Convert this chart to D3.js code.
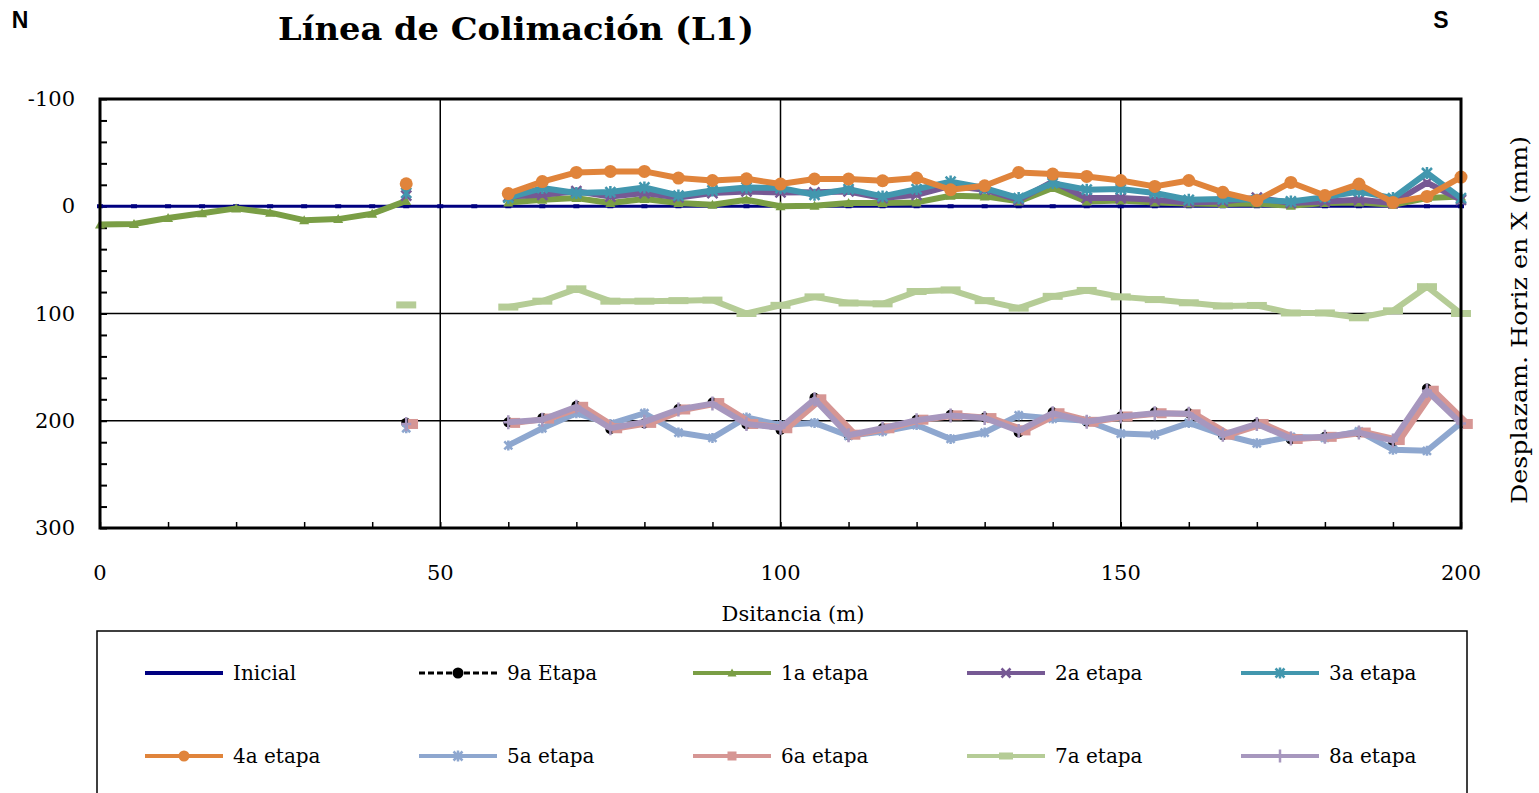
<!DOCTYPE html>
<html>
<head>
<meta charset="utf-8">
<script src="https://cdn.jsdelivr.net/npm/d3@7"></script>
<style>
  body { margin: 0; background: #fff; }
  svg { display: block; }
  .serif { font-family: "DejaVu Serif", "Liberation Serif", serif; }
</style>
</head>
<body>
<svg id="chart" width="1539" height="793"></svg>
<script>
"use strict";

// distancias (m)
var distancias = [0, 5, 10, 15, 20, 25, 30, 35, 40, 45, 50, 55, 60, 65, 70, 75, 80, 85, 90, 95, 100,
  105, 110, 115, 120, 125, 130, 135, 140, 145, 150, 155, 160, 165, 170, 175, 180, 185, 190, 195, 200];
// la 6a etapa esta corrida 1 m
var distancias6a = [1, 6, 11, 16, 21, 26, 31, 36, 41, 46, 51, 56, 61, 66, 71, 76, 81, 86, 91, 96, 101,
  106, 111, 116, 121, 126, 131, 136, 141, 146, 151, 156, 161, 166, 171, 176, 181, 186, 191, 196, 201];

var inicial = [0, 0, 0, 0, 0, 0, 0, 0, 0, 0, 0, 0, 0, 0, 0, 0, 0, 0, 0, 0, 0,
  0, 0, 0, 0, 0, 0, 0, 0, 0, 0, 0, 0, 0, 0, 0, 0, 0, 0, 0, 0];
var etapa9 = [null, null, null, null, null, null, null, null, null, 202, null, null,
  201.5, 197.5, 186, 208, 202.5, 189, 183, 203.5, 208.5, 178.5, 213.5, 207, 199, 194.5, 197,
  211, 192, 201, 196, 192, 193, 213.5, 202.5, 217.5, 215, 211, 219.5, 170, 202.5];
var etapa1 = [17, 16.5, 11, 6.5, 2, 6, 13, 12, 7, -5, null, null,
  -3.6, -6, -7.6, -3, -6.7, -3, -1.4, -6, 0, -0.5, -3, -3, -3.6, -9.8, -9.2,
  -4.5, -17, -4.5, -5.4, -3.6, -2.5, -2, -2.5, -0.5, -3, -3.6, -1.4, -7.6, -9];
var etapa2 = [null, null, null, null, null, null, null, null, null, -10, null, null,
  -9, -10.7, -14, -9, -12.3, -8.2, -12.3, -13.8, -12.9, -13, -13.8, -7.6, -10.7, -19, -15.4,
  -6, -23, -7.6, -7.6, -6, -3.6, -4.5, -8, -3, -4.5, -6, -3, -22, -6];
var etapa3 = [null, null, null, null, null, null, null, null, null, -12.5, null, null,
  -8, -17, -12.3, -13.2, -17.5, -10, -14.7, -17.5, -17, -10.7, -16, -9.2, -16, -23, -17,
  -7.6, -21.6, -15.4, -16, -12.3, -6, -6.7, -6, -4.5, -8.5, -13.8, -7.6, -31, -7.6];
var etapa4 = [null, null, null, null, null, null, null, null, null, -21, null, null,
  -11.8, -23, -31.5, -32.5, -32.5, -26.3, -24, -25.6, -20.7, -25.4, -25.4, -23.8, -26.3, -15.4, -19.1,
  -31.5, -30, -27.8, -24, -18.5, -24, -13, -5.4, -22.2, -10, -20.7, -3.6, -9.2, -27.2];
var etapa5 = [null, null, null, null, null, null, null, null, null, 207, null, null,
  223, 207, 193, 203, 193, 211, 216, 197, 204, 202, 214, 210, 204, 217, 211,
  195, 198, 200, 212, 213, 202, 213, 221, 215, 216, 210, 227, 228, 202];
var etapa6 = [null, null, null, null, null, null, null, null, null, 203, null, null,
  202, 198, 187, 207, 202, 189.5, 183.5, 203, 207, 180, 213, 207, 199, 195, 197.5,
  209, 193, 201, 196, 193, 194, 213, 203, 217, 215, 211, 218, 172, 203];
var etapa7 = [null, null, null, null, null, null, null, null, null, 92, null, null,
  94, 88.5, 77, 88.5, 88.5, 88, 87.5, 100, 92.4, 84.5, 90.2, 91, 79.5, 78, 88,
  95, 84, 78.5, 84.5, 87, 90, 93, 92.5, 99.5, 99.5, 104, 97.5, 75, 100];
var etapa8 = [null, null, null, null, null, null, null, null, null, 203, null, null,
  201.5, 199, 187, 207, 201, 189.5, 184, 203, 206.5, 180, 213.5, 207, 199.5, 195, 197.5,
  209.5, 193, 201, 196, 193, 193.5, 213, 203, 216.5, 215, 211, 218.5, 172, 202.5];

var xTicks = [0, 50, 100, 150, 200];
var yTicks = [-100, 0, 100, 200, 300];

var series = [
  { name: "Inicial", x: distancias, y: inicial, color: "#000080", width: 3, marker: "dot", size: 3 },
  { name: "9a Etapa", x: distancias, y: etapa9, color: "#000000", width: 2, dash: "6,3", marker: "circle", size: 5 },
  { name: "1a etapa", x: distancias, y: etapa1, color: "#7a9e45", width: 6, marker: "triangle", size: 5 },
  { name: "2a etapa", x: distancias, y: etapa2, color: "#765994", width: 6, marker: "times", size: 5 },
  { name: "3a etapa", x: distancias, y: etapa3, color: "#4297ae", width: 6, marker: "asterisk", size: 5 },
  { name: "4a etapa", x: distancias, y: etapa4, color: "#e0843b", width: 6, marker: "circle", size: 6.5 },
  { name: "5a etapa", x: distancias, y: etapa5, color: "#8ea7cf", width: 6, marker: "asterisk", size: 4 },
  { name: "6a etapa", x: distancias6a, y: etapa6, color: "#d69694", width: 6, marker: "square", size: 5 },
  { name: "7a etapa", x: distancias, y: etapa7, color: "#b5cc96", width: 6, marker: "bar", size: 10 },
  { name: "8a etapa", x: distancias, y: etapa8, color: "#a797be", width: 6, marker: "plus", size: 5 }
];

var svg = d3.select("#chart");
var plot = { left: 100, right: 1461, top: 99, bottom: 528 };

var x = d3.scaleLinear().domain([0, 200]).range([plot.left, plot.right]);
var y = d3.scaleLinear().domain([-100, 300]).range([plot.top, plot.bottom]);

// titulo y letras N / S
svg.append("text")
  .attr("class", "serif")
  .attr("x", 516).attr("y", 40)
  .attr("text-anchor", "middle")
  .attr("font-size", 31).attr("font-weight", "bold")
  .attr("textLength", 476)
  .attr("lengthAdjust", "spacingAndGlyphs")
  .text("Línea de Colimación (L1)");

svg.append("text")
  .attr("x", 20).attr("y", 28)
  .attr("text-anchor", "middle")
  .attr("font-family", "'Liberation Sans', Arial, sans-serif")
  .attr("font-size", 23).attr("font-weight", "bold")
  .text("N");
svg.append("text")
  .attr("x", 1441).attr("y", 28)
  .attr("text-anchor", "middle")
  .attr("font-family", "'Liberation Sans', Arial, sans-serif")
  .attr("font-size", 23).attr("font-weight", "bold")
  .text("S");

// rejilla
var grid = svg.append("g").attr("class", "grid");
grid.selectAll("line.v")
  .data(xTicks.slice(1, -1))
  .enter().append("line")
  .attr("class", "v")
  .attr("x1", function(d) { return x(d); }).attr("x2", function(d) { return x(d); })
  .attr("y1", plot.top).attr("y2", plot.bottom)
  .attr("stroke", "#000").attr("stroke-width", 1.5);
grid.selectAll("line.h")
  .data(yTicks.slice(1, -1))
  .enter().append("line")
  .attr("class", "h")
  .attr("x1", plot.left).attr("x2", plot.right)
  .attr("y1", function(d) { return y(d); }).attr("y2", function(d) { return y(d); })
  .attr("stroke", "#000").attr("stroke-width", 1.5);

// ejes (marcas menores hacia dentro)
var yAxis = d3.axisRight(y)
  .tickValues(d3.range(-100, 301, 20))
  .tickSize(7)
  .tickFormat("");
svg.append("g")
  .attr("transform", "translate(" + plot.left + ",0)")
  .call(yAxis)
  .call(function(g) {
    g.select(".domain").remove();
    g.selectAll("line").attr("stroke-width", 2);
  });

var xAxis = d3.axisTop(x)
  .tickValues(d3.range(0, 201, 10))
  .tickSize(6)
  .tickFormat("");
svg.append("g")
  .attr("transform", "translate(0," + plot.bottom + ")")
  .call(xAxis)
  .call(function(g) {
    g.select(".domain").remove();
    g.selectAll("line").attr("stroke-width", 1.5);
  });

svg.append("g").selectAll("text")
  .data(yTicks)
  .enter().append("text")
  .attr("class", "serif")
  .attr("x", 75)
  .attr("y", function(d) { return y(d) + 7; })
  .attr("text-anchor", "end")
  .attr("font-size", 21)
  .text(function(d) { return d; });

svg.append("g").selectAll("text")
  .data(xTicks)
  .enter().append("text")
  .attr("class", "serif")
  .attr("x", function(d) { return x(d); })
  .attr("y", 580)
  .attr("text-anchor", "middle")
  .attr("font-size", 21)
  .text(function(d) { return d; });

svg.append("text")
  .attr("class", "serif")
  .attr("x", 793).attr("y", 621)
  .attr("text-anchor", "middle")
  .attr("font-size", 21)
  .text("Dsitancia (m)");

svg.append("text")
  .attr("class", "serif")
  .attr("transform", "translate(1527,320) rotate(-90)")
  .attr("text-anchor", "middle")
  .attr("font-size", 22)
  .attr("textLength", 368)
  .attr("lengthAdjust", "spacingAndGlyphs")
  .text("Desplazam. Horiz en X (mm)");

// marcadores
function drawMarker(g, type, s, color) {
  if (type === "circle") {
    g.append("circle").attr("r", s).attr("fill", color);
  } else if (type === "dot") {
    g.append("rect").attr("x", -s).attr("y", -s / 2 - 0.5).attr("width", 2 * s).attr("height", s + 1).attr("fill", color);
  } else if (type === "triangle") {
    g.append("path").attr("d", "M0," + (-s) + "L" + s + "," + (s * 0.8) + "L" + (-s) + "," + (s * 0.8) + "Z").attr("fill", color);
  } else if (type === "square") {
    g.append("rect").attr("x", -s).attr("y", -s).attr("width", 2 * s).attr("height", 2 * s).attr("fill", color);
  } else if (type === "bar") {
    g.append("rect").attr("x", -s).attr("y", -3.5).attr("width", 2 * s).attr("height", 7).attr("fill", color);
  } else if (type === "times") {
    g.append("path").attr("d", "M" + (-s) + "," + (-s) + "L" + s + "," + s + "M" + (-s) + "," + s + "L" + s + "," + (-s))
      .attr("stroke", color).attr("stroke-width", 2.5);
  } else if (type === "plus") {
    g.append("path").attr("d", "M0," + (-s - 2) + "V" + (s + 2) + "M" + (-s) + ",0H" + s)
      .attr("stroke", color).attr("stroke-width", 2.5);
  } else if (type === "asterisk") {
    g.append("path").attr("d", "M" + (-s) + "," + (-s) + "L" + s + "," + s + "M" + (-s) + "," + s + "L" + s + "," + (-s) +
        "M0," + (-s - 1) + "V" + (s + 1))
      .attr("stroke", color).attr("stroke-width", 2.5);
  }
}

// series
var seriesLayer = svg.append("g").attr("class", "series");
series.forEach(function(sr) {
  var pts = sr.y.map(function(v, i) { return { x: sr.x[i], y: v }; });
  var line = d3.line()
    .defined(function(d) { return d.y !== null; })
    .x(function(d) { return x(d.x); })
    .y(function(d) { return y(d.y); });

  var g = seriesLayer.append("g");
  g.append("path")
    .datum(pts)
    .attr("d", line)
    .attr("fill", "none")
    .attr("stroke", sr.color)
    .attr("stroke-width", sr.width)
    .attr("stroke-linejoin", "round")
    .attr("stroke-dasharray", sr.dash || null);

  g.selectAll("g.m")
    .data(pts.filter(function(d) { return d.y !== null; }))
    .enter().append("g")
    .attr("class", "m")
    .attr("transform", function(d) { return "translate(" + x(d.x) + "," + y(d.y) + ")"; })
    .each(function() { drawMarker(d3.select(this), sr.marker, sr.size, sr.color); });
});

// marco del area de trazado
svg.append("rect")
  .attr("x", plot.left).attr("y", plot.top)
  .attr("width", plot.right - plot.left).attr("height", plot.bottom - plot.top)
  .attr("fill", "none").attr("stroke", "#000").attr("stroke-width", 3);

// leyenda
var legend = svg.append("g").attr("class", "legend");
legend.append("rect")
  .attr("x", 97).attr("y", 631)
  .attr("width", 1370).attr("height", 180)
  .attr("fill", "none").attr("stroke", "#000").attr("stroke-width", 1.5);

series.forEach(function(sr, i) {
  var col = i % 5, row = Math.floor(i / 5);
  var lx = 145 + col * 274;
  var ly = 673 + row * 83;
  var item = legend.append("g").attr("transform", "translate(" + lx + "," + ly + ")");
  item.append("line")
    .attr("x1", 0).attr("x2", 78).attr("y1", 0).attr("y2", 0)
    .attr("stroke", sr.color)
    .attr("stroke-width", i === 1 ? 3 : 4)
    .attr("stroke-dasharray", sr.dash || null);
  var m = item.append("g").attr("transform", "translate(39,0)");
  var ms = sr.marker === "bar" ? 7 : (sr.marker === "circle" ? 5.5 : 4.5);
  drawMarker(m, sr.marker, sr.marker === "dot" ? 2.5 : ms, sr.color);
  item.append("text")
    .attr("class", "serif")
    .attr("x", 88).attr("y", 7)
    .attr("font-size", 20)
    .text(sr.name);
});
</script>
</body>
</html>
